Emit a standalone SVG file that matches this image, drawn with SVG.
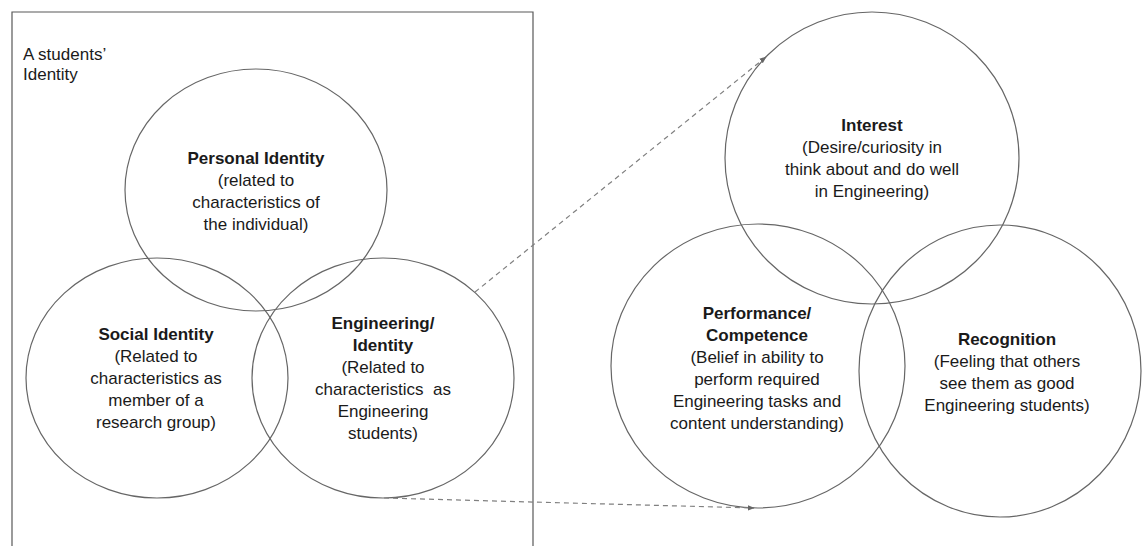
<svg xmlns="http://www.w3.org/2000/svg" width="1143" height="546" viewBox="0 0 1143 546">
  <style>
    .frame { fill: none; stroke: #595959; stroke-width: 1.2; }
    .set { fill: none; stroke: #666666; stroke-width: 1.2; }
    .t { font-family: "Liberation Sans", Arial, sans-serif; font-size: 17px; fill: #1a1a1a; text-anchor: middle; }
    .b { font-weight: bold; }
    .link { fill: none; stroke: #808080; stroke-width: 1.2; stroke-dasharray: 5 4; }
  </style>
  <defs>
    <marker id="arrow" viewBox="0 0 10 10" refX="9" refY="5" markerWidth="7" markerHeight="7" orient="auto" markerUnits="userSpaceOnUse">
      <path d="M0,1 L10,5 L0,9 Z" fill="#666666"/>
    </marker>
  </defs>
  <rect width="1143" height="546" fill="#ffffff"/>

  <!-- outer frame of the student identity panel (open at the bottom) -->
  <g id="identity-frame">
    <path class="frame" d="M12,560 L12,12 L533,12 L533,560"/>
    <text class="t" style="text-anchor:start" x="23" y="60">A students’</text>
    <text class="t" style="text-anchor:start" x="23" y="80">Identity</text>
  </g>

  <g id="personal-identity">
    <ellipse class="set" cx="256" cy="190" rx="131" ry="121"/>
    <text class="t" x="256" y="164"><tspan class="b">Personal Identity</tspan><tspan x="256" dy="22">(related to</tspan><tspan x="256" dy="22">characteristics of</tspan><tspan x="256" dy="22">the individual)</tspan></text>
  </g>

  <g id="social-identity">
    <ellipse class="set" cx="157" cy="378" rx="131" ry="120"/>
    <text class="t" x="156" y="340"><tspan class="b">Social Identity</tspan><tspan x="156" dy="22">(Related to</tspan><tspan x="156" dy="22">characteristics as</tspan><tspan x="156" dy="22">member of a</tspan><tspan x="156" dy="22">research group)</tspan></text>
  </g>

  <g id="engineering-identity">
    <ellipse class="set" cx="383" cy="378" rx="131" ry="120"/>
    <text class="t" x="383" y="329" xml:space="preserve"><tspan class="b">Engineering/</tspan><tspan class="b" x="383" dy="22">Identity</tspan><tspan x="383" dy="22">(Related to</tspan><tspan x="383" dy="22">characteristics  as</tspan><tspan x="383" dy="22">Engineering</tspan><tspan x="383" dy="22">students)</tspan></text>
  </g>

  <g id="interest">
    <ellipse class="set" cx="872" cy="158" rx="147" ry="146"/>
    <text class="t" x="872" y="131"><tspan class="b">Interest</tspan><tspan x="872" dy="22">(Desire/curiosity in</tspan><tspan x="872" dy="22">think about and do well</tspan><tspan x="872" dy="22">in Engineering)</tspan></text>
  </g>

  <g id="performance-competence">
    <ellipse class="set" cx="758" cy="366" rx="147" ry="142"/>
    <text class="t" x="757" y="319"><tspan class="b">Performance/</tspan><tspan class="b" x="757" dy="22">Competence</tspan><tspan x="757" dy="22">(Belief in ability to</tspan><tspan x="757" dy="22">perform required</tspan><tspan x="757" dy="22">Engineering tasks and</tspan><tspan x="757" dy="22">content understanding)</tspan></text>
  </g>

  <g id="recognition">
    <ellipse class="set" cx="1000" cy="371" rx="141" ry="146"/>
    <text class="t" x="1007" y="345"><tspan class="b">Recognition</tspan><tspan x="1007" dy="22">(Feeling that others</tspan><tspan x="1007" dy="22">see them as good</tspan><tspan x="1007" dy="22">Engineering students)</tspan></text>
  </g>

  <g id="connectors">
    <line class="link" x1="475" y1="292" x2="766" y2="57" marker-end="url(#arrow)"/>
    <line class="link" x1="384" y1="498" x2="754" y2="508" marker-end="url(#arrow)"/>
  </g>
</svg>
